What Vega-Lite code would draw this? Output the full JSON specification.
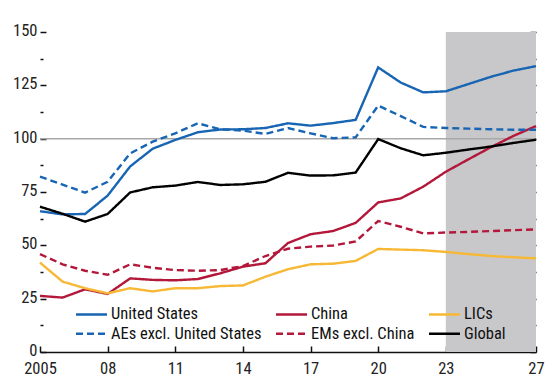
{
  "$schema": "https://vega.github.io/schema/vega-lite/v6.json",
  "width": 496,
  "height": 320,
  "autosize": "none",
  "padding": {"left": 40, "top": 32, "right": 18, "bottom": 40},
  "config": {
    "view": {"stroke": null},
    "font": "Roboto Condensed",
    "axis": {"labelFont": "Roboto Condensed", "labelFontSize": 16.5, "labelColor": "#222", "tickColor": "#111", "tickWidth": 1.5, "grid": false, "title": null}
  },
  "datasets": {
    "shade": [{"start": 2023, "end": 2027}],
    "ref": [{"v": 100}],
    "lines": [
      {"year": 2005, "series": "United States", "value": 66}, {"year": 2006, "series": "United States", "value": 64.5}, {"year": 2007, "series": "United States", "value": 64.7}, {"year": 2008, "series": "United States", "value": 73.3}, {"year": 2009, "series": "United States", "value": 87}, {"year": 2010, "series": "United States", "value": 95.3}, {"year": 2011, "series": "United States", "value": 99.4}, {"year": 2012, "series": "United States", "value": 103}, {"year": 2013, "series": "United States", "value": 104.3}, {"year": 2014, "series": "United States", "value": 104.4}, {"year": 2015, "series": "United States", "value": 105}, {"year": 2016, "series": "United States", "value": 107.2}, {"year": 2017, "series": "United States", "value": 106.1}, {"year": 2018, "series": "United States", "value": 107.3}, {"year": 2019, "series": "United States", "value": 108.8}, {"year": 2020, "series": "United States", "value": 133.4}, {"year": 2021, "series": "United States", "value": 126.3}, {"year": 2022, "series": "United States", "value": 121.7}, {"year": 2023, "series": "United States", "value": 122.2}, {"year": 2024, "series": "United States", "value": 125.6}, {"year": 2025, "series": "United States", "value": 129}, {"year": 2026, "series": "United States", "value": 131.9}, {"year": 2027, "series": "United States", "value": 134},
      {"year": 2005, "series": "China", "value": 26.3}, {"year": 2006, "series": "China", "value": 25.5}, {"year": 2007, "series": "China", "value": 29.4}, {"year": 2008, "series": "China", "value": 27.2}, {"year": 2009, "series": "China", "value": 34.5}, {"year": 2010, "series": "China", "value": 33.8}, {"year": 2011, "series": "China", "value": 33.6}, {"year": 2012, "series": "China", "value": 34.2}, {"year": 2013, "series": "China", "value": 36.9}, {"year": 2014, "series": "China", "value": 40}, {"year": 2015, "series": "China", "value": 41.6}, {"year": 2016, "series": "China", "value": 51.1}, {"year": 2017, "series": "China", "value": 55.2}, {"year": 2018, "series": "China", "value": 56.7}, {"year": 2019, "series": "China", "value": 60.5}, {"year": 2020, "series": "China", "value": 70.1}, {"year": 2021, "series": "China", "value": 72}, {"year": 2022, "series": "China", "value": 77.5}, {"year": 2023, "series": "China", "value": 84.5}, {"year": 2024, "series": "China", "value": 90.3}, {"year": 2025, "series": "China", "value": 96}, {"year": 2026, "series": "China", "value": 101.3}, {"year": 2027, "series": "China", "value": 105.9},
      {"year": 2005, "series": "LICs", "value": 41.9}, {"year": 2006, "series": "LICs", "value": 33}, {"year": 2007, "series": "LICs", "value": 29.9}, {"year": 2008, "series": "LICs", "value": 27.5}, {"year": 2009, "series": "LICs", "value": 29.9}, {"year": 2010, "series": "LICs", "value": 28.4}, {"year": 2011, "series": "LICs", "value": 29.9}, {"year": 2012, "series": "LICs", "value": 29.9}, {"year": 2013, "series": "LICs", "value": 30.9}, {"year": 2014, "series": "LICs", "value": 31.2}, {"year": 2015, "series": "LICs", "value": 35.3}, {"year": 2016, "series": "LICs", "value": 38.8}, {"year": 2017, "series": "LICs", "value": 41.1}, {"year": 2018, "series": "LICs", "value": 41.4}, {"year": 2019, "series": "LICs", "value": 42.7}, {"year": 2020, "series": "LICs", "value": 48.3}, {"year": 2021, "series": "LICs", "value": 48}, {"year": 2022, "series": "LICs", "value": 47.7}, {"year": 2023, "series": "LICs", "value": 46.9}, {"year": 2024, "series": "LICs", "value": 45.9}, {"year": 2025, "series": "LICs", "value": 45}, {"year": 2026, "series": "LICs", "value": 44.4}, {"year": 2027, "series": "LICs", "value": 43.9},
      {"year": 2005, "series": "AEs excl. United States", "value": 82.2}, {"year": 2006, "series": "AEs excl. United States", "value": 78.5}, {"year": 2007, "series": "AEs excl. United States", "value": 74.7}, {"year": 2008, "series": "AEs excl. United States", "value": 79.8}, {"year": 2009, "series": "AEs excl. United States", "value": 93.1}, {"year": 2010, "series": "AEs excl. United States", "value": 98.6}, {"year": 2011, "series": "AEs excl. United States", "value": 102.5}, {"year": 2012, "series": "AEs excl. United States", "value": 107.2}, {"year": 2013, "series": "AEs excl. United States", "value": 104.4}, {"year": 2014, "series": "AEs excl. United States", "value": 103.8}, {"year": 2015, "series": "AEs excl. United States", "value": 102.2}, {"year": 2016, "series": "AEs excl. United States", "value": 105}, {"year": 2017, "series": "AEs excl. United States", "value": 102.5}, {"year": 2018, "series": "AEs excl. United States", "value": 100.2}, {"year": 2019, "series": "AEs excl. United States", "value": 100.6}, {"year": 2020, "series": "AEs excl. United States", "value": 115.5}, {"year": 2021, "series": "AEs excl. United States", "value": 110.6}, {"year": 2022, "series": "AEs excl. United States", "value": 105.5}, {"year": 2023, "series": "AEs excl. United States", "value": 105}, {"year": 2024, "series": "AEs excl. United States", "value": 104.7}, {"year": 2025, "series": "AEs excl. United States", "value": 104.4}, {"year": 2026, "series": "AEs excl. United States", "value": 104.2}, {"year": 2027, "series": "AEs excl. United States", "value": 104.2},
      {"year": 2005, "series": "EMs excl. China", "value": 45.9}, {"year": 2006, "series": "EMs excl. China", "value": 41.1}, {"year": 2007, "series": "EMs excl. China", "value": 38.1}, {"year": 2008, "series": "EMs excl. China", "value": 36.2}, {"year": 2009, "series": "EMs excl. China", "value": 41.1}, {"year": 2010, "series": "EMs excl. China", "value": 39.5}, {"year": 2011, "series": "EMs excl. China", "value": 38.4}, {"year": 2012, "series": "EMs excl. China", "value": 38.1}, {"year": 2013, "series": "EMs excl. China", "value": 38.4}, {"year": 2014, "series": "EMs excl. China", "value": 40.3}, {"year": 2015, "series": "EMs excl. China", "value": 45}, {"year": 2016, "series": "EMs excl. China", "value": 48.4}, {"year": 2017, "series": "EMs excl. China", "value": 49.4}, {"year": 2018, "series": "EMs excl. China", "value": 49.9}, {"year": 2019, "series": "EMs excl. China", "value": 51.8}, {"year": 2020, "series": "EMs excl. China", "value": 61.4}, {"year": 2021, "series": "EMs excl. China", "value": 58.7}, {"year": 2022, "series": "EMs excl. China", "value": 55.6}, {"year": 2023, "series": "EMs excl. China", "value": 56}, {"year": 2024, "series": "EMs excl. China", "value": 56.3}, {"year": 2025, "series": "EMs excl. China", "value": 56.7}, {"year": 2026, "series": "EMs excl. China", "value": 57.1}, {"year": 2027, "series": "EMs excl. China", "value": 57.5},
      {"year": 2005, "series": "Global", "value": 68.1}, {"year": 2006, "series": "Global", "value": 64.8}, {"year": 2007, "series": "Global", "value": 61.1}, {"year": 2008, "series": "Global", "value": 64.7}, {"year": 2009, "series": "Global", "value": 74.8}, {"year": 2010, "series": "Global", "value": 77.2}, {"year": 2011, "series": "Global", "value": 78}, {"year": 2012, "series": "Global", "value": 79.7}, {"year": 2013, "series": "Global", "value": 78.3}, {"year": 2014, "series": "Global", "value": 78.6}, {"year": 2015, "series": "Global", "value": 79.8}, {"year": 2016, "series": "Global", "value": 84}, {"year": 2017, "series": "Global", "value": 82.7}, {"year": 2018, "series": "Global", "value": 82.8}, {"year": 2019, "series": "Global", "value": 84.1}, {"year": 2020, "series": "Global", "value": 99.8}, {"year": 2021, "series": "Global", "value": 95.5}, {"year": 2022, "series": "Global", "value": 92.2}, {"year": 2023, "series": "Global", "value": 93.4}, {"year": 2024, "series": "Global", "value": 94.9}, {"year": 2025, "series": "Global", "value": 96.3}, {"year": 2026, "series": "Global", "value": 98}, {"year": 2027, "series": "Global", "value": 99.5}
    ]
  },
  "layer": [
    {
      "data": {"name": "shade"},
      "mark": {"type": "rect", "color": "#c8c8ca"},
      "encoding": {
        "x": {"field": "start", "type": "quantitative", "scale": {"domain": [2005, 2027], "nice": false, "zero": false},
          "axis": {"orient": "bottom", "values": [2005, 2008, 2011, 2014, 2017, 2020, 2023, 2027], "labelExpr": "datum.value == 2005 ? '2005' : slice(toString(datum.value), 2)", "tickSize": -6, "domain": true, "domainColor": "#111", "domainWidth": 1.5, "labelPadding": 14, "labelFontSize": 16.5, "labelFlush": false, "labelOverlap": false}},
        "x2": {"field": "end"}
      }
    },
    {
      "data": {"name": "ref"},
      "mark": {"type": "rule", "color": "#a8a8a8", "strokeWidth": 1.5},
      "encoding": {
        "y": {"field": "v", "type": "quantitative", "scale": {"domain": [0, 150], "nice": false},
          "axis": {"orient": "left", "values": [0, 12.5, 25, 37.5, 50, 62.5, 75, 87.5, 100, 112.5, 125, 137.5, 150], "labelExpr": "datum.value % 25 === 0 ? format(datum.value, 'd') : ''", "tickSize": {"condition": {"test": "datum.value % 25 === 0", "value": -6}, "value": -3}, "domain": false, "labelPadding": 9, "labelOffset": -1.5}}
      }
    },
    {
      "data": {"name": "lines"},
      "mark": {"type": "line", "strokeWidth": 2.4},
      "encoding": {
        "x": {"field": "year", "type": "quantitative"},
        "y": {"field": "value", "type": "quantitative",
          "axis": {"orient": "right", "values": [0, 12.5, 25, 37.5, 50, 62.5, 75, 87.5, 100, 112.5, 125, 137.5, 150], "labels": false, "tickSize": -6, "domain": false}},
        "color": {"field": "series", "type": "nominal",
          "scale": {"domain": ["United States", "China", "LICs", "AEs excl. United States", "EMs excl. China", "Global"], "range": ["#1765b3", "#b3183a", "#f7b835", "#1765b3", "#b3183a", "#000000"]},
          "legend": {"orient": "none", "legendX": 36, "legendY": 274, "direction": "horizontal", "columns": 3, "title": null, "symbolType": "M-1.65,0H4.55", "symbolSize": 100, "symbolStrokeWidth": 2.5, "labelFontSize": 16.5, "labelFont": "Roboto Condensed", "labelColor": "#111", "labelOffset": 18.5, "columnPadding": 9, "rowPadding": 2.5, "padding": 0, "labelLimit": 300}},
        "strokeDash": {"field": "series", "type": "nominal",
          "scale": {"domain": ["United States", "China", "LICs", "AEs excl. United States", "EMs excl. China", "Global"], "range": [[1, 0], [1, 0], [1, 0], [7, 4], [7, 4], [1, 0]]},
          "legend": {"orient": "none", "legendX": 36, "legendY": 274, "direction": "horizontal", "columns": 3, "title": null, "symbolType": "M-1.65,0H4.55", "symbolSize": 100, "symbolStrokeWidth": 2.5, "labelFontSize": 16.5, "labelFont": "Roboto Condensed", "labelColor": "#111", "labelOffset": 18.5, "columnPadding": 9, "rowPadding": 2.5, "padding": 0, "labelLimit": 300}}
      }
    }
  ],
  "resolve": {"axis": {"y": "independent"}}
}
